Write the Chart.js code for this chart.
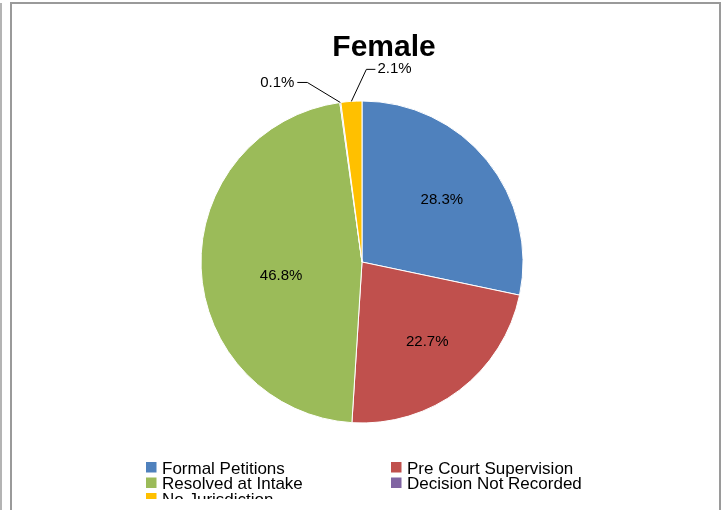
<!DOCTYPE html>
<html>
<head>
<meta charset="utf-8">
<script src="https://cdn.jsdelivr.net/npm/chart.js@4/dist/chart.umd.min.js"></script>
<style>
    html, body { margin: 0; padding: 0; background: #fff; }
    #clip { position: absolute; left: 0; top: 0; width: 723px; height: 499px; overflow: hidden; }
    #edge { position: absolute; left: 0; top: 3px; width: 2px; height: 507px; background: #b4b4b4; }
    #frame { position: absolute; left: 10px; top: 2px; width: 707px; height: 510px;
             border: 2px solid #9a9a9a; border-bottom: none; }
</style>
</head>
<body>
<div id="clip"><canvas id="femaleChart" width="723" height="510"></canvas></div>
<div id="edge"></div>
<div id="frame"></div>
<script>
const categories = ["Formal Petitions", "Pre Court Supervision", "Resolved at Intake", "Decision Not Recorded", "No Jurisdiction"];
const shares = [28.3, 22.7, 46.8, 0.1, 2.1];
const sliceColors = ["#4F81BD", "#C0504D", "#9BBB59", "#8064A2", "#FFC000"];

const FONT = "'Liberation Sans', Arial, sans-serif";

// draws title, % labels (inside or with leader lines) and the two-column legend
const excelLook = {
    id: "excelLook",
    afterDraw(chart, args, opts) {
        const ctx = chart.ctx;
        const arcs = chart.getDatasetMeta(0).data;
        ctx.save();

        ctx.fillStyle = "#000";
        ctx.font = "bold 30px " + FONT;
        ctx.textAlign = "center";
        ctx.textBaseline = "alphabetic";
        ctx.fillText("Female", 384, 56);

        ctx.font = "15px " + FONT;
        ctx.textBaseline = "middle";
        ctx.strokeStyle = "#000";
        ctx.lineWidth = 1;
        arcs.forEach((arc, i) => {
            const p = arc.getProps(["x", "y", "startAngle", "endAngle", "outerRadius"], true);
            const mid = (p.startAngle + p.endAngle) / 2;
            const text = shares[i].toFixed(1) + "%";
            const inside = opts.inside[i];
            if (inside) {
                const a = mid + inside[1] * Math.PI / 180;
                const r = p.outerRadius * inside[0];
                ctx.textAlign = "center";
                ctx.fillText(text, p.x + Math.cos(a) * r, p.y + Math.sin(a) * r);
                return;
            }
            const lead = opts.leaders[i];
            const ex = p.x + Math.cos(mid) * p.outerRadius;
            const ey = p.y + Math.sin(mid) * p.outerRadius;
            const bx = ex + lead[0], by = ey + lead[1];
            const tx = bx + lead[2];
            ctx.beginPath();
            ctx.moveTo(ex, ey);
            ctx.lineTo(bx, by);
            ctx.lineTo(tx, by);
            ctx.stroke();
            ctx.textAlign = lead[2] < 0 ? "right" : "left";
            ctx.fillText(text, tx + (lead[2] < 0 ? -3 : 2), by);
        });

        ctx.font = "17px " + FONT;
        ctx.textAlign = "left";
        ctx.textBaseline = "alphabetic";
        categories.forEach((name, i) => {
            const col = i % 2, row = Math.floor(i / 2);
            const x = col === 0 ? 146 : 391;
            const base = 473.5 + row * 15.5;
            ctx.fillStyle = sliceColors[i];
            ctx.fillRect(x, base - 11.5, 10.5, 10.5);
            ctx.fillStyle = "#000";
            ctx.fillText(name, x + 16, base);
        });
        ctx.restore();
    }
};

new Chart(document.getElementById("femaleChart"), {
    type: "pie",
    data: {
        labels: categories,
        datasets: [{
            data: shares,
            backgroundColor: sliceColors,
            borderColor: "#ffffff",
            borderWidth: 1,
            hoverOffset: 0
        }]
    },
    options: {
        responsive: false,
        animation: false,
        events: [],
        layout: { padding: { left: 200.5, right: 199.5, top: 100.5, bottom: 86.5 } },
        plugins: {
            legend: { display: false },
            title: { display: false },
            tooltip: { enabled: false },
            excelLook: {
                inside: [[0.63, 1], [0.64, -2], [0.51, -7.8], null, null],
                leaders: [null, null, null, [-33, -20, -10], [15, -32, 9]]
            }
        }
    },
    plugins: [excelLook]
});
</script>
</body>
</html>
